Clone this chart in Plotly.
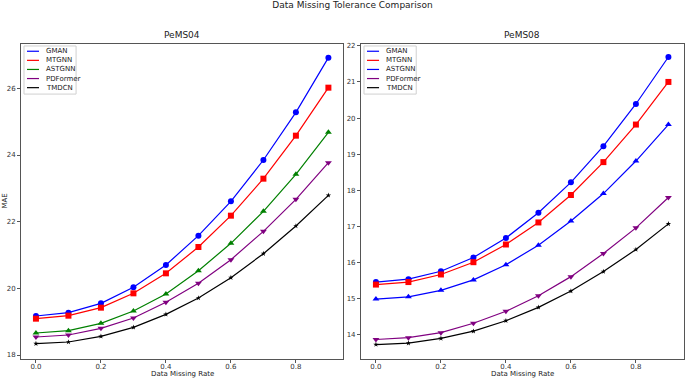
import plotly.graph_objects as go

rates = [0.0, 0.1, 0.2, 0.3, 0.4, 0.5, 0.6, 0.7, 0.8, 0.9]

p04_gman = [19.17, 19.27, 19.55, 20.03, 20.70, 21.58, 22.61, 23.85, 25.28, 26.92]
p04_mtgnn = [19.09, 19.18, 19.42, 19.85, 20.45, 21.24, 22.18, 23.29, 24.58, 26.02]
p04_astgnn = [18.66, 18.73, 18.95, 19.32, 19.83, 20.53, 21.35, 22.31, 23.42, 24.68]
p04_pdformer = [18.54, 18.60, 18.80, 19.11, 19.58, 20.15, 20.86, 21.71, 22.67, 23.77]
p04_tmdcn = [18.34, 18.39, 18.56, 18.83, 19.22, 19.71, 20.32, 21.04, 21.87, 22.79]

p08_gman = [15.46, 15.54, 15.76, 16.14, 16.68, 17.38, 18.22, 19.22, 20.39, 21.69]
p08_mtgnn = [15.39, 15.46, 15.67, 16.01, 16.50, 17.11, 17.87, 18.78, 19.82, 21.00]
p08_astgnn = [14.99, 15.05, 15.23, 15.52, 15.94, 16.48, 17.15, 17.91, 18.81, 19.82]
p08_pdformer = [13.87, 13.92, 14.06, 14.32, 14.65, 15.08, 15.61, 16.25, 16.96, 17.80]
p08_tmdcn = [13.73, 13.77, 13.90, 14.10, 14.39, 14.76, 15.21, 15.75, 16.36, 17.07]

names = ["GMAN", "MTGNN", "ASTGNN", "PDFormer", "TMDCN"]
symbols = ["circle", "square", "triangle-up", "triangle-down", "star"]
sizes = [6, 6, 6, 6, 4]
colors04 = ["blue", "red", "green", "purple", "black"]
colors08 = ["blue", "red", "blue", "purple", "black"]

panels = [
    dict(xa="x", ya="y", lx="x3", ly="y3", colors=colors04,
         series=[p04_gman, p04_mtgnn, p04_astgnn, p04_pdformer, p04_tmdcn]),
    dict(xa="x2", ya="y2", lx="x4", ly="y4", colors=colors08,
         series=[p08_gman, p08_mtgnn, p08_astgnn, p08_pdformer, p08_tmdcn]),
]

fig = go.Figure()
shapes = []
annotations = []

# legend layout in panel-relative units (0..1)
leg_x0, leg_x1, leg_y0, leg_y1 = 0.0093, 0.171, 0.841, 0.9937
ent_y0, ent_dy = 0.977, 0.0289
line_x0, line_x1, mark_x, text_x = 0.0186, 0.0559, 0.037, 0.0714

for p in panels:
    for i, ys in enumerate(p["series"]):
        c = p["colors"][i]
        fig.add_trace(go.Scatter(x=rates, y=ys, name=names[i], mode="lines+markers",
                                 line=dict(color=c, width=1.2),
                                 marker=dict(symbol=symbols[i], size=sizes[i], color=c, line=dict(width=0)),
                                 xaxis=p["xa"], yaxis=p["ya"], showlegend=False))
    shapes.append(dict(type="rect", xref=p["lx"], yref=p["ly"], x0=leg_x0, x1=leg_x1,
                       y0=leg_y0, y1=leg_y1, line=dict(color="#d0d0d0", width=1),
                       fillcolor="white", layer="above"))
    for i in range(5):
        c = p["colors"][i]
        ey = ent_y0 - i * ent_dy
        shapes.append(dict(type="line", xref=p["lx"], yref=p["ly"], x0=line_x0, x1=line_x1,
                           y0=ey, y1=ey, line=dict(color=c, width=1.2), layer="above"))
        annotations.append(dict(xref=p["lx"], yref=p["ly"], x=text_x, y=ey, text=names[i],
                                showarrow=False, xanchor="left", yanchor="middle",
                                font=dict(size=7, color="#222")))
        fig.add_trace(go.Scatter(x=[mark_x], y=[ey], mode="markers",
                                 marker=dict(symbol=symbols[i], size=4, color=c, line=dict(width=0)),
                                 xaxis=p["lx"], yaxis=p["ly"], showlegend=False, hoverinfo="skip"))

axis_common = dict(showgrid=False, zeroline=False, showline=True, linecolor="#555",
                   linewidth=1, mirror=True, ticks="outside", ticklen=3, automargin=False,
                   tickcolor="#555", tickfont=dict(size=7, color="#333"))
xticks = dict(tickvals=[0.0, 0.2, 0.4, 0.6, 0.8], ticktext=["0.0", "0.2", "0.4", "0.6", "0.8"],
              ticklabelstandoff=-2)
hidden = dict(range=[0, 1], visible=False, fixedrange=True)

fig.update_layout(
    xaxis=dict(domain=[0.0, 0.4857], range=[-0.046, 0.945], anchor="y", **xticks, **axis_common),
    yaxis=dict(domain=[0, 1], range=[17.88, 27.33], anchor="x", tickvals=[18, 20, 22, 24, 26], **axis_common),
    xaxis2=dict(domain=[0.5128, 1.0], range=[-0.046, 0.948], anchor="y2", **xticks, **axis_common),
    yaxis2=dict(domain=[0, 1], range=[13.33, 22.05], anchor="x2",
                tickvals=[14, 15, 16, 17, 18, 19, 20, 21, 22], **axis_common),
    xaxis3=dict(domain=[0.0, 0.4857], anchor="y3", overlaying="x", **hidden),
    yaxis3=dict(domain=[0, 1], anchor="x3", overlaying="y", **hidden),
    xaxis4=dict(domain=[0.5128, 1.0], anchor="y4", overlaying="x2", **hidden),
    yaxis4=dict(domain=[0, 1], anchor="x4", overlaying="y2", **hidden),
)

# titles and axis labels
annotations += [
    dict(xref="x domain", yref="paper", x=0.5, y=1, yshift=2, text="PeMS04", showarrow=False,
         xanchor="center", yanchor="bottom", font=dict(size=9, color="#222")),
    dict(xref="x2 domain", yref="paper", x=0.5, y=1, yshift=2, text="PeMS08", showarrow=False,
         xanchor="center", yanchor="bottom", font=dict(size=9, color="#222")),
    dict(xref="x domain", yref="paper", x=0.5, y=0, yshift=-15, text="Data Missing Rate", showarrow=False,
         xanchor="center", yanchor="middle", borderpad=0, font=dict(size=7, color="#222")),
    dict(xref="x2 domain", yref="paper", x=0.5, y=0, yshift=-15, text="Data Missing Rate", showarrow=False,
         xanchor="center", yanchor="middle", borderpad=0, font=dict(size=7, color="#222")),
    dict(xref="paper", yref="y domain", x=0, xshift=-17, y=0.5, text="MAE", showarrow=False,
         textangle=-90, xanchor="center", yanchor="middle", font=dict(size=7, color="#222")),
]

fig.update_layout(
    width=685, height=379,
    margin=dict(l=21, r=1, t=44, b=20),
    paper_bgcolor="white", plot_bgcolor="white",
    font=dict(family="DejaVu Sans"),
    title=dict(text="Data Missing Tolerance Comparison", x=0.5, xanchor="center",
               xref="paper", y=0.995, yanchor="top", pad=dict(t=0),
               font=dict(size=9, color="#222")),
    shapes=shapes, annotations=annotations,
    showlegend=False,
)

fig.write_html("out.html", config={"displayModeBar": False},
               post_script="document.body.style.margin='0';document.body.style.overflow='hidden';")
